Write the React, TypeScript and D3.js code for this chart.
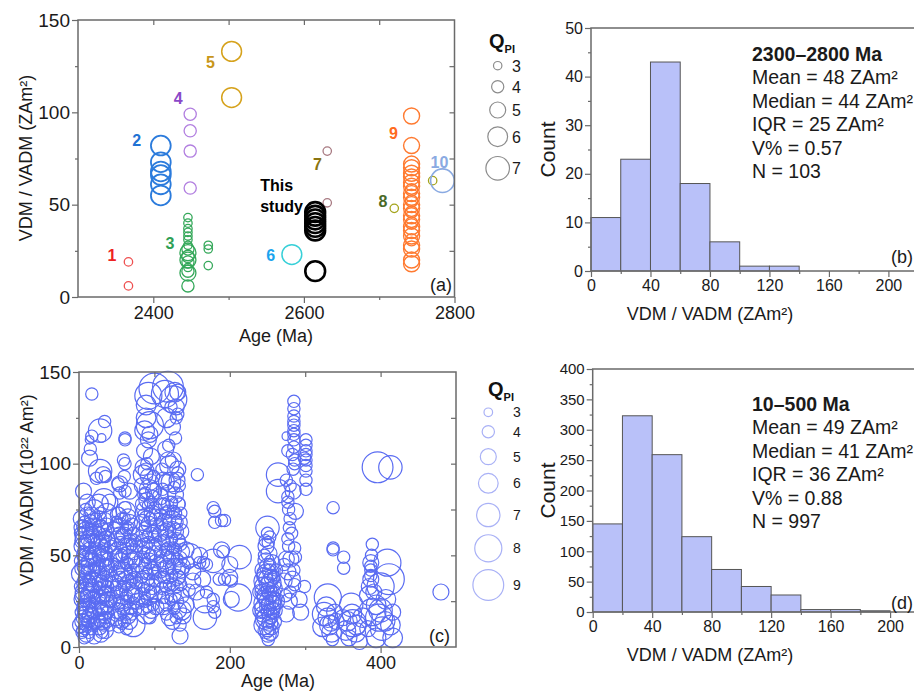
import React, { useRef, useEffect } from "react";
import * as d3 from "d3";

const FONT = "'Liberation Sans', Arial, Helvetica, sans-serif";
const AXIS = "#6a6a6a";

// ---- panel (a): [age Ma, VDM ZAm2, QPI] per study ----
const study1 = [[2367, 19, 3], [2367, 6, 3]];
const study2 = [[2410, 82, 6], [2410, 73, 6], [2410, 68, 6], [2410, 66, 6], [2410, 61, 6], [2410, 55, 6]];
const study3 = [
  [2446, 43, 3], [2446, 40, 3], [2446, 37, 3], [2446, 35, 3], [2446, 33, 3], [2446, 31, 3], [2446, 28, 3],
  [2446, 26, 4], [2446, 24, 5], [2446, 22, 4], [2446, 20, 5], [2446, 19, 4], [2446, 16, 3], [2446, 14, 4],
  [2446, 13, 5], [2446, 6, 4], [2473, 28, 3], [2473, 26, 3], [2473, 17, 3],
];
const study4 = [[2449, 99, 4], [2449, 90, 4], [2449, 79, 4], [2449, 59, 4]];
const study5 = [[2504, 133, 6], [2504, 108, 6]];
const study6 = [[2584, 23, 6]];
const study7 = [[2631, 79, 3], [2631, 51, 3]];
const study8 = [[2720, 48, 3], [2771, 63, 3]];
const study9 = [
  [2743, 98, 5], [2743, 82, 5], [2743, 72, 5], [2743, 70, 5], [2743, 67, 5], [2743, 65, 5], [2743, 62, 5],
  [2743, 60, 5], [2743, 58, 4], [2743, 56, 5], [2743, 54, 5], [2743, 52, 4], [2743, 50, 5], [2743, 48, 5],
  [2743, 46, 4], [2743, 44, 5], [2743, 42, 5], [2743, 40, 4], [2743, 38, 5], [2743, 36, 5], [2743, 33, 5],
  [2743, 31, 4], [2743, 28, 5], [2743, 26, 5], [2743, 20, 5], [2743, 18, 5],
];
const study10 = [[2784, 63, 7]];
const thisStudy = [[2615, 46, 6], [2615, 44, 6], [2615, 42, 6], [2615, 40, 6], [2615, 38, 6], [2615, 36, 6], [2615, 14, 6]];

// study number labels (a): [text, age, vdm]
const labelsA: [string, number, number][] = [
  ["1", 2345, 23], ["2", 2378, 85], ["3", 2422, 29], ["4", 2433, 108], ["5", 2476, 127],
  ["6", 2556, 23], ["7", 2618, 72], ["8", 2705, 52], ["9", 2719, 89], ["10", 2780, 73],
];

const qLegendA = [3, 4, 5, 6, 7];
const qLegendC = [3, 4, 5, 6, 7, 8, 9];

// ---- panel (b) / (d) histograms ----
const binStarts = [0, 20, 40, 60, 80, 100, 120, 140, 160, 180];
const countsB = [11, 23, 43, 18, 6, 1, 1];
const countsD = [145, 323, 259, 124, 70, 42, 28, 4, 4, 2];
const statsB = ["2300–2800 Ma", "Mean = 48 ZAm²", "Median = 44 ZAm²", "IQR = 25 ZAm²", "V% = 0.57", "N = 103"];
const statsD = ["10–500 Ma", "Mean = 49 ZAm²", "Median = 41 ZAm²", "IQR = 36 ZAm²", "V% = 0.88", "N = 997"];

// ---- panel (c): [age Ma, VDM 1e22 Am2, QPI] ----
const c0to45 = [
  [17, 138, 4], [17, 115, 4], [14, 113, 3], [28, 118, 7], [34, 123, 4], [30, 114, 3], [15, 108, 4], [14, 103, 5],
  [28, 96, 7], [32, 94, 5], [23, 92, 4], [35, 93, 4], [6, 85, 5], [11, 79, 5], [9, 75, 4], [26, 78, 6],
  [41, 79, 5], [37, 73, 6], [4, 65, 5], [20, 75, 6], [33, 80, 7],
  [3, 70, 5], [2, 62, 4], [4, 55, 5], [2, 47, 4], [3, 40, 6], [2, 33, 4], [4, 26, 5], [3, 19, 4], [2, 12, 5], [4, 8, 4],
  [7, 68, 4], [8, 60, 6], [6, 52, 4], [8, 44, 5], [7, 37, 4], [8, 30, 6], [6, 23, 4], [7, 16, 5], [8, 10, 4], [7, 5, 4],
  [11, 72, 5], [12, 64, 4], [10, 57, 5], [12, 49, 6], [11, 42, 4], [12, 35, 5], [10, 28, 4], [11, 21, 6], [12, 14, 4], [10, 7, 5],
  [15, 69, 4], [16, 61, 5], [14, 54, 4], [16, 46, 6], [15, 38, 4], [16, 31, 5], [14, 24, 4], [15, 17, 5], [16, 10, 4],
  [19, 66, 5], [20, 58, 4], [19, 50, 5], [20, 42, 4], [19, 35, 6], [20, 27, 4], [19, 20, 5], [20, 13, 4], [20, 6, 5],
  [26, 70, 5], [27, 62, 4], [26, 55, 6], [27, 47, 4], [26, 40, 5], [27, 32, 4], [26, 25, 5], [27, 18, 4], [27, 11, 5],
  [30, 66, 4], [31, 58, 5], [30, 50, 4], [31, 43, 6], [30, 36, 4], [31, 28, 5], [30, 21, 4], [31, 14, 5], [30, 8, 4],
  [34, 69, 5], [35, 60, 4], [34, 52, 5], [35, 45, 4], [34, 37, 5], [35, 30, 4], [34, 23, 6], [35, 16, 4], [35, 9, 5],
  [38, 64, 4], [39, 56, 5], [38, 48, 4], [39, 40, 5], [38, 33, 4], [39, 26, 5], [38, 19, 4], [40, 12, 4],
  [42, 55, 4], [42, 45, 5], [43, 35, 4], [42, 25, 4],
  [5, 66, 4], [5, 58, 5], [5, 50, 4], [5, 43, 5], [5, 35, 4], [5, 28, 5], [5, 21, 4], [5, 14, 5], [5, 9, 4],
  [9, 64, 5], [9, 56, 4], [9, 48, 5], [9, 40, 4], [9, 33, 5], [9, 25, 4], [9, 18, 5], [9, 12, 4],
  [13, 67, 4], [13, 59, 5], [13, 51, 4], [13, 44, 5], [13, 36, 4], [13, 29, 5], [13, 22, 4], [13, 15, 5], [13, 8, 4],
  [17, 72, 5], [17, 64, 4], [17, 57, 5], [17, 49, 4], [17, 41, 5], [17, 34, 4], [17, 26, 5], [17, 19, 4], [17, 12, 4],
  [28, 73, 4], [28, 65, 5], [28, 58, 4], [28, 50, 5], [28, 43, 4], [28, 35, 5], [28, 28, 4], [28, 21, 5], [28, 14, 4], [29, 7, 5],
  [33, 63, 5], [33, 55, 4], [33, 48, 5], [33, 40, 4], [33, 33, 5], [33, 26, 4], [33, 19, 5], [33, 12, 4],
  [37, 67, 4], [37, 59, 5], [37, 51, 4], [37, 44, 5], [37, 36, 4], [37, 29, 5], [37, 22, 4], [37, 15, 5],
  [23, 60, 4], [23, 45, 5], [23, 30, 4], [24, 15, 5], [22, 70, 4],
];
const c45to80 = [
  [61, 114, 4], [61, 113, 4], [59, 102, 4], [61, 100, 4], [60, 93, 4], [54, 89, 5], [52, 89, 4], [61, 85, 4],
  [67, 85, 5], [54, 84, 4], [61, 76, 4], [65, 71, 5], [52, 73, 4],
  [47, 65, 4], [48, 55, 5], [47, 45, 4], [48, 35, 5], [47, 25, 4], [48, 16, 5],
  [52, 72, 5], [53, 62, 4], [52, 52, 6], [53, 43, 4], [52, 33, 5], [53, 24, 4], [52, 15, 5], [53, 11, 4],
  [57, 70, 4], [58, 60, 5], [57, 50, 4], [58, 41, 6], [57, 31, 4], [58, 22, 5], [57, 13, 4],
  [62, 74, 6], [63, 64, 4], [62, 55, 5], [63, 46, 4], [62, 37, 5], [63, 28, 4], [62, 19, 5], [63, 10, 4],
  [67, 68, 5], [68, 58, 4], [67, 49, 5], [68, 40, 4], [67, 30, 6], [68, 21, 4], [67, 14, 5],
  [72, 62, 4], [73, 52, 5], [72, 42, 4], [73, 33, 5], [72, 24, 4], [72, 12, 7],
  [76, 55, 4], [77, 45, 5], [76, 35, 4], [77, 25, 5],
  [50, 68, 4], [50, 59, 5], [50, 50, 4], [50, 40, 5], [50, 30, 4], [50, 20, 5],
  [55, 66, 5], [55, 57, 4], [55, 47, 5], [55, 38, 4], [55, 28, 5], [55, 18, 4],
  [60, 70, 4], [60, 61, 5], [60, 51, 4], [60, 42, 5], [60, 33, 4], [60, 24, 5], [60, 14, 4],
  [65, 65, 4], [65, 55, 5], [65, 45, 4], [65, 35, 5], [65, 25, 4], [65, 17, 5],
  [70, 66, 5], [70, 56, 4], [70, 47, 5], [70, 37, 4], [70, 28, 5], [70, 18, 4],
  [74, 58, 4], [74, 48, 5], [74, 38, 4], [74, 29, 5], [75, 20, 4],
];
const c80to105 = [
  [92, 137, 8], [100, 141, 9], [89, 132, 6], [89, 125, 6], [94, 121, 8], [87, 118, 6], [94, 116, 5], [92, 113, 5],
  [87, 107, 5], [96, 104, 5], [85, 94, 6], [89, 96, 5], [92, 93, 5],
  [84, 88, 5], [88, 84, 4], [93, 86, 6], [98, 82, 4], [83, 78, 4], [87, 75, 5], [92, 77, 4], [97, 73, 5], [101, 76, 4],
  [84, 68, 5], [88, 65, 4], [93, 67, 5], [98, 63, 4], [102, 66, 5], [83, 58, 4], [87, 55, 5], [92, 57, 4], [97, 53, 6], [101, 56, 4],
  [84, 48, 5], [88, 45, 4], [93, 47, 5], [98, 43, 4], [102, 46, 5], [83, 38, 4], [87, 35, 6], [92, 37, 4], [97, 33, 5], [101, 36, 4],
  [84, 28, 5], [88, 25, 4], [93, 27, 5], [98, 23, 4], [89, 18, 6], [102, 22, 5], [94, 16, 4],
  [86, 83, 4], [90, 80, 5], [95, 79, 4], [99, 85, 5], [86, 72, 4], [90, 70, 5], [95, 70, 4], [100, 71, 5],
  [86, 62, 5], [90, 60, 4], [95, 61, 5], [100, 60, 4], [86, 52, 4], [90, 50, 5], [95, 50, 4], [100, 51, 5],
  [86, 42, 5], [90, 40, 4], [95, 41, 5], [100, 40, 4], [86, 32, 4], [90, 30, 5], [95, 30, 4], [100, 29, 5],
  [86, 22, 5], [91, 22, 4], [96, 20, 5], [85, 98, 5], [90, 100, 4], [95, 90, 5], [99, 93, 4],
];
const c105to140 = [
  [118, 142, 9], [114, 138, 8], [127, 139, 6], [125, 135, 8], [131, 139, 5], [129, 131, 5], [131, 127, 4], [129, 125, 4],
  [128, 114, 4], [115, 108, 5], [118, 102, 5], [120, 99, 6], [131, 97, 5], [131, 95, 4], [112, 91, 5], [122, 90, 6], [133, 88, 4],
  [108, 82, 5], [113, 78, 4], [118, 84, 5], [123, 79, 4], [128, 83, 5], [133, 78, 4],
  [108, 72, 4], [113, 68, 5], [118, 74, 4], [123, 69, 6], [128, 73, 4], [133, 68, 5],
  [108, 62, 5], [113, 58, 4], [118, 64, 5], [123, 59, 4], [128, 63, 5], [133, 58, 4], [136, 52, 5],
  [108, 52, 4], [113, 48, 6], [118, 54, 4], [123, 49, 5], [128, 53, 4], [133, 48, 5],
  [108, 42, 5], [113, 38, 4], [118, 44, 5], [123, 39, 4], [128, 43, 6], [133, 38, 4], [137, 44, 5],
  [110, 32, 4], [115, 28, 5], [120, 34, 4], [125, 29, 5], [130, 33, 4], [135, 28, 5],
  [112, 22, 5], [120, 16, 5], [126, 21, 4], [132, 20, 5], [134, 12, 4], [134, 6, 5], [136, 20, 6],
  [110, 77, 5], [115, 73, 4], [120, 78, 5], [125, 74, 4], [130, 78, 5], [135, 73, 4],
  [110, 67, 4], [115, 63, 5], [120, 69, 4], [125, 64, 5], [130, 68, 4], [135, 63, 5],
  [110, 57, 5], [115, 53, 4], [120, 59, 5], [125, 54, 4], [130, 58, 5], [135, 56, 4],
  [110, 47, 4], [115, 43, 5], [120, 49, 4], [125, 44, 5], [130, 48, 4], [135, 42, 5],
  [110, 37, 5], [115, 33, 4], [120, 39, 5], [125, 34, 4], [130, 38, 5], [135, 34, 4],
  [112, 27, 4], [117, 24, 5], [122, 26, 4], [128, 25, 5], [116, 18, 4], [124, 14, 5], [129, 16, 4],
  [111, 86, 4], [116, 90, 5], [126, 87, 4], [130, 91, 5], [110, 97, 4], [125, 102, 5], [119, 110, 4],
  [124, 120, 5], [116, 125, 6], [122, 131, 4],
];
const c140to220 = [
  [157, 94, 4], [178, 76, 4], [180, 74, 4], [180, 68, 4], [189, 69, 4], [193, 69, 4],
  [147, 50, 7], [160, 50, 5], [160, 46, 4], [178, 47, 7], [189, 53, 5], [191, 52, 4], [213, 49, 7], [200, 45, 5],
  [186, 37, 4], [193, 37, 4], [202, 36, 4], [164, 37, 5], [151, 36, 5], [156, 30, 5], [169, 30, 4], [167, 25, 7],
  [167, 16, 7], [202, 26, 5], [211, 27, 8], [142, 23, 5], [138, 17, 5], [180, 19, 4], [151, 41, 5], [169, 45, 4],
  [146, 31, 4], [142, 53, 5], [145, 46, 4], [178, 26, 4], [178, 22, 4], [200, 38, 5], [165, 46, 4],
];
const c240to265 = [
  [250, 65, 7], [250, 62, 4], [248, 55, 5], [252, 51, 5], [248, 47, 5], [253, 45, 4], [247, 58, 4], [253, 60, 4],
  [244, 42, 5], [249, 40, 6], [254, 41, 5], [258, 38, 4], [245, 36, 6], [250, 34, 5], [255, 35, 6], [259, 32, 5],
  [244, 30, 5], [249, 28, 6], [254, 29, 5], [258, 26, 5], [245, 24, 6], [250, 22, 5], [255, 23, 6], [259, 20, 5],
  [244, 18, 5], [249, 16, 6], [254, 17, 5], [258, 14, 5], [245, 12, 6], [250, 10, 5], [255, 11, 5], [251, 7, 5], [251, 4, 4],
  [246, 39, 5], [251, 37, 6], [256, 38, 5], [246, 33, 6], [252, 31, 5], [257, 29, 5], [247, 27, 5], [252, 25, 6],
  [257, 24, 5], [246, 21, 6], [252, 19, 5], [256, 20, 5], [247, 15, 6], [253, 13, 5], [248, 9, 5], [254, 8, 5],
  [250, 44, 5], [256, 46, 5], [246, 50, 4], [251, 57, 4], [262, 42, 4], [262, 25, 5], [241, 30, 5], [241, 20, 5],
];
const c265to305 = [
  [285, 134, 4], [285, 130, 4], [285, 126, 4], [285, 123, 4], [285, 121, 4], [285, 118, 4], [285, 116, 4], [285, 113, 4],
  [285, 109, 4], [275, 115, 3], [277, 107, 4], [286, 102, 4], [286, 100, 4], [284, 97, 4],
  [264, 94, 7], [264, 85, 7], [275, 91, 4], [277, 82, 4], [277, 79, 4], [278, 75, 4], [280, 70, 4], [279, 65, 4],
  [277, 59, 4], [284, 85, 5], [287, 74, 5], [286, 54, 4], [280, 88, 4], [283, 105, 4], [282, 62, 4], [278, 55, 4],
  [275, 48, 5], [272, 45, 4], [281, 48, 5], [287, 49, 4], [277, 41, 5], [283, 37, 5], [272, 36, 5], [286, 34, 4],
  [279, 25, 5], [275, 18, 5], [292, 26, 5], [299, 33, 4], [294, 19, 5], [280, 30, 4], [274, 28, 4], [285, 42, 4],
  [301, 113, 4], [301, 110, 4], [301, 107, 4], [301, 105, 4], [301, 102, 4], [301, 99, 4], [301, 96, 4], [301, 91, 4],
  [301, 86, 4], [299, 103, 4],
];
const c320to350 = [
  [337, 76, 4], [337, 54, 4], [337, 53, 4], [351, 49, 4], [351, 43, 4],
  [330, 27, 8], [325, 18, 7], [330, 16, 6], [332, 12, 6], [323, 11, 6], [335, 8, 6], [339, 19, 5], [341, 14, 5],
  [336, 4, 4], [328, 22, 6], [334, 13, 5],
];
const c350to380 = [
  [361, 23, 7], [363, 13, 8], [354, 9, 6], [367, 8, 6], [358, 5, 5], [372, 3, 5], [376, 16, 6], [350, 16, 5],
  [362, 18, 6], [368, 12, 6], [356, 14, 6],
];
const c380to500 = [
  [396, 98, 9], [413, 98, 7], [389, 56, 4], [387, 46, 5], [387, 44, 4], [387, 42, 4], [387, 39, 4], [409, 46, 8],
  [411, 37, 9], [400, 33, 8], [389, 19, 8], [398, 16, 8], [402, 10, 7], [413, 12, 6], [416, 5, 6], [394, 5, 6],
  [385, 28, 6], [407, 26, 6], [416, 19, 5], [394, 23, 6], [383, 10, 5], [387, 37, 5], [385, 33, 5], [391, 30, 5],
  [388, 50, 4], [400, 20, 7], [406, 14, 6], [480, 30, 5],
];

type Ax = { major: number[]; minor?: number[]; inner?: number[]; fs: number };

function frame(g: any, x: any, y: any, xa: Ax, ya: Ax) {
  const [l, r] = x.range();
  const [b, t] = y.range();
  const style = (sel: any) => {
    sel.select(".domain").remove();
    sel.selectAll("line").attr("stroke", AXIS).attr("stroke-width", 1.2);
    sel.selectAll("text").attr("fill", "#1a1a1a");
    sel.attr("font-family", FONT);
  };
  const none = () => "";
  g.append("g").attr("transform", `translate(0,${b})`)
    .call(d3.axisBottom(x).tickValues(xa.major).tickSize(6).tickPadding(3).tickFormat(d3.format("d")))
    .attr("font-size", xa.fs).call(style);
  if (xa.minor) g.append("g").attr("transform", `translate(0,${b})`)
    .call(d3.axisBottom(x).tickValues(xa.minor).tickSize(3).tickFormat(none)).call(style);
  if (xa.inner) g.append("g").attr("transform", `translate(0,${t})`)
    .call(d3.axisTop(x).tickValues(xa.inner).tickSize(-5).tickFormat(none)).call(style);
  g.append("g").attr("transform", `translate(${l},0)`)
    .call(d3.axisLeft(y).tickValues(ya.major).tickSize(6).tickPadding(2).tickFormat(d3.format("d")))
    .attr("font-size", ya.fs).call(style);
  if (ya.minor) g.append("g").attr("transform", `translate(${l},0)`)
    .call(d3.axisLeft(y).tickValues(ya.minor).tickSize(3).tickFormat(none)).call(style);
  if (ya.inner) g.append("g").attr("transform", `translate(${r},0)`)
    .call(d3.axisRight(y).tickValues(ya.inner).tickSize(-5).tickFormat(none)).call(style);
  g.append("rect").attr("x", l).attr("y", t).attr("width", r - l).attr("height", b - t)
    .attr("fill", "none").attr("stroke", AXIS).attr("stroke-width", 1.5);
}

function text(g: any, x: number, y: number, s: string, fs: number, opts: any = {}) {
  return g.append("text").attr("x", x).attr("y", y).attr("font-size", fs).attr("font-family", FONT)
    .attr("fill", opts.fill || "#1a1a1a").attr("font-weight", opts.bold ? "bold" : null)
    .attr("text-anchor", opts.anchor || "start")
    .text(s);
}

function qLabel(g: any, x: number, y: number) {
  const t = g.append("text").attr("x", x).attr("y", y).attr("font-family", FONT).attr("font-weight", "bold").attr("fill", "#111");
  t.append("tspan").attr("font-size", 20).text("Q");
  t.append("tspan").attr("font-size", 11).attr("dy", 5).text("PI");
}

const App = () => {
  const ref = useRef<SVGSVGElement>(null);
  useEffect(() => {
    const svg = d3.select(ref.current);
    svg.selectAll("*").remove();

    // ---------- (a) ----------
    const xa = d3.scaleLinear().domain([2300, 2800]).range([78, 454.5]);
    const ya = d3.scaleLinear().domain([0, 150]).range([297, 20]);
    const ra = d3.scaleLinear().domain([3, 7]).range([4.2, 11.8]);
    const ga = svg.append("g");
    const groups = [
      { pts: study1, c: "#ee5050", w: 1.3 }, { pts: study2, c: "#2b7bdc", w: 1.8 },
      { pts: study3, c: "#35a85a", w: 1.3 }, { pts: study4, c: "#b27fe0", w: 1.3 },
      { pts: study5, c: "#d6a21c", w: 1.5 }, { pts: study6, c: "#38d0d8", w: 1.5 },
      { pts: study7, c: "#a87a82", w: 1.3 }, { pts: study8, c: "#a4a41c", w: 1.3 },
      { pts: study9, c: "#ff7a30", w: 1.4 }, { pts: study10, c: "#8aaae2", w: 1.6 },
      { pts: thisStudy, c: "#000000", w: 2.6 },
    ];
    groups.forEach((gr) => {
      ga.append("g").selectAll("circle").data(gr.pts).join("circle")
        .attr("cx", (d: number[]) => xa(d[0])).attr("cy", (d: number[]) => ya(d[1])).attr("r", (d: number[]) => ra(d[2]))
        .attr("fill", "none").attr("stroke", gr.c).attr("stroke-width", gr.w);
    });
    const labelColors = ["#ee2222", "#1f72d4", "#2ea055", "#8a48c8", "#c8961a", "#1aa4ee", "#8a7410", "#4a6a28", "#ff6a20", "#8aaae2"];
    labelsA.forEach(([s, ax, vy], i) => {
      text(ga, xa(ax), ya(vy) + 6, s, 16, { bold: true, anchor: "middle", fill: labelColors[i] });
    });
    text(ga, xa(2542), ya(57.4), "This", 16, { bold: true, fill: "#000" });
    text(ga, xa(2542), ya(46), "study", 16, { bold: true, fill: "#000" });
    frame(ga, xa, ya,
      { major: [2400, 2600, 2800], minor: [2500, 2700], inner: [2400, 2500, 2600, 2700], fs: 18 },
      { major: [0, 50, 100, 150], minor: [25, 75, 125], inner: [25, 50, 75, 100, 125], fs: 19 });
    text(ga, 452, 291, "(a)", 18, { anchor: "end" });
    text(ga, 276, 342, "Age (Ma)", 18, { anchor: "middle" });
    ga.append("text").attr("transform", "translate(32,158) rotate(-90)").attr("text-anchor", "middle")
      .attr("font-family", FONT).attr("font-size", 18).attr("fill", "#1a1a1a").text("VDM / VADM (ZAm²)");
    qLabel(ga, 489, 48);
    const legYa = [65.7, 86.7, 110, 136.7, 168.3];
    qLegendA.forEach((q, i) => {
      ga.append("circle").attr("cx", 497.7).attr("cy", legYa[i]).attr("r", ra(q)).attr("fill", "none").attr("stroke", "#8c8c8c").attr("stroke-width", 1.2);
      text(ga, 512, legYa[i] + 6, String(q), 16);
    });

    // ---------- histograms ----------
    const hist = (top: number, bottom: number, left: number, yMax: number, counts: number[], ya2: Ax, stats: string[], statY: number, tag: string, tagY: number) => {
      const gh = svg.append("g");
      const x = d3.scaleLinear().domain([0, 220]).range([left, left + 220 * 1.487]);
      const y = d3.scaleLinear().domain([0, yMax]).range([bottom, top]);
      gh.selectAll("rect").data(counts).join("rect")
        .attr("x", (_: number, i: number) => x(binStarts[i])).attr("width", x(20) - x(0))
        .attr("y", (d: number) => y(d)).attr("height", (d: number) => y(0) - y(d))
        .attr("fill", "#b9c1f9").attr("stroke", "#555").attr("stroke-width", 1);
      frame(gh, x, y, { major: [0, 40, 80, 120, 160, 200], minor: [20, 60, 100, 140, 180], fs: 16 }, ya2);
      stats.forEach((s, i) => text(gh, 752, statY + i * 23.4, s, 19.5, { bold: i === 0 }));
      text(gh, 913, tagY, tag, 18, { anchor: "end" });
      text(gh, 710, bottom + 49, "VDM / VADM (ZAm²)", 18, { anchor: "middle" });
      gh.append("text").attr("transform", `translate(555,${(top + bottom) / 2}) rotate(-90)`).attr("text-anchor", "middle")
        .attr("font-family", FONT).attr("font-size", 21).attr("fill", "#1a1a1a").text("Count");
    };
    hist(28, 271, 591, 50, countsB, { major: [0, 10, 20, 30, 40, 50], minor: [5, 15, 25, 35, 45], fs: 16 }, statsB, 61, "(b)", 263);
    hist(369, 612, 592.7, 400, countsD, { major: [0, 50, 100, 150, 200, 250, 300, 350, 400], minor: [25, 75, 125, 175, 225, 275, 325, 375], fs: 15 }, statsD, 411, "(d)", 609);

    // ---------- (c) ----------
    const xc = d3.scaleLinear().domain([0, 500]).range([79, 456]);
    const yc = d3.scaleLinear().domain([0, 150]).range([647, 372]);
    const rc = d3.scaleLinear().domain([3, 9]).range([4.3, 15.4]);
    const gc = svg.append("g");
    const allC = [...c0to45, ...c45to80, ...c80to105, ...c105to140, ...c140to220, ...c240to265, ...c265to305, ...c320to350, ...c350to380, ...c380to500];
    gc.append("g").selectAll("circle").data(allC).join("circle")
      .attr("cx", (d: number[]) => xc(d[0])).attr("cy", (d: number[]) => yc(d[1])).attr("r", (d: number[]) => rc(d[2]))
      .attr("fill", "none").attr("stroke", "#5a6cf2").attr("stroke-width", 1.2);
    frame(gc, xc, yc,
      { major: [0, 200, 400], minor: [100, 300], inner: [100, 200, 300, 400], fs: 18 },
      { major: [0, 50, 100, 150], minor: [25, 75, 125], inner: [25, 50, 75, 100, 125], fs: 19 });
    text(gc, 450, 642, "(c)", 18, { anchor: "end" });
    text(gc, 278, 687, "Age (Ma)", 18, { anchor: "middle" });
    gc.append("text").attr("transform", "translate(33,490) rotate(-90)").attr("text-anchor", "middle")
      .attr("font-family", FONT).attr("font-size", 18).attr("fill", "#1a1a1a").text("VDM / VADM (10²² Am²)");
    qLabel(gc, 488, 396);
    const legYc = [412.3, 431.7, 456.7, 483.3, 515, 548.3, 585];
    qLegendC.forEach((q, i) => {
      gc.append("circle").attr("cx", 488.3).attr("cy", legYc[i]).attr("r", rc(q)).attr("fill", "none").attr("stroke", "#a9b1f6").attr("stroke-width", 1.2);
      text(gc, 513, legYc[i] + 5, String(q), 14);
    });
  }, []);

  return (
    <svg ref={ref} width={914} height={697}
      style={{ position: "absolute", left: 0, top: 0, background: "#fff", overflow: "hidden" }} />
  );
};

export default App;
